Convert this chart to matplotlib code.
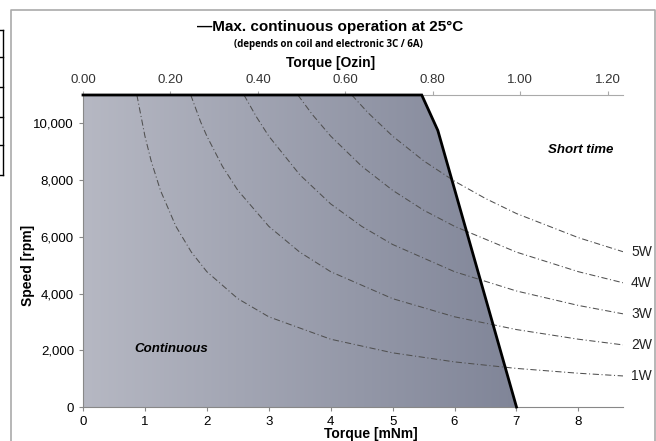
import numpy as np
import matplotlib.pyplot as plt
from matplotlib.patches import Polygon
from matplotlib.lines import Line2D
from matplotlib.colors import LinearSegmentedColormap

plt.rcParams['font.family'] = ['Liberation Sans', 'DejaVu Sans']

# limite de operacion continua (torque mNm, velocidad rpm)
limite_torque = [0.0, 0.0, 5.47, 5.73, 7.0]
limite_vel = [0, 11000, 11000, 9750, 0]

# curvas de potencia constante
potencias = ["1W", "2W", "3W", "4W", "5W"]
curvas_torque = [
    [0.87, 1.0, 1.1, 1.25, 1.5, 1.75, 2.0, 2.5, 3.0, 4.0, 5.0, 6.0, 7.0, 8.0, 8.72],
    [1.74, 1.9, 2.0, 2.25, 2.5, 3.0, 3.5, 4.0, 5.0, 6.0, 7.0, 8.0, 8.72],
    [2.60, 2.8, 3.0, 3.5, 4.0, 4.5, 5.0, 6.0, 7.0, 8.0, 8.72],
    [3.47, 3.7, 4.0, 4.5, 5.0, 5.5, 6.0, 7.0, 8.0, 8.72],
    [4.34, 4.6, 5.0, 5.5, 6.0, 6.5, 7.0, 8.0, 8.72],
]
curvas_vel = [
    [11000, 9550, 8680, 7640, 6370, 5460, 4770, 3820, 3180, 2390, 1910, 1590, 1360, 1190, 1095],
    [11000, 10050, 9550, 8490, 7640, 6370, 5460, 4770, 3820, 3180, 2730, 2390, 2190],
    [11000, 10230, 9550, 8190, 7160, 6370, 5730, 4770, 4090, 3580, 3285],
    [11000, 10320, 9550, 8490, 7640, 6940, 6370, 5460, 4770, 4380],
    [11000, 10380, 9550, 8680, 7960, 7350, 6820, 5970, 5475],
]

xticks = [0, 1, 2, 3, 4, 5, 6, 7, 8]
yticks = [0, 2000, 4000, 6000, 8000, 10000]
oz_ticks = [0.0, 0.2, 0.4, 0.6, 0.8, 1.0, 1.2]
MNM_A_OZIN = 0.1416

fig = plt.figure(figsize=(6.56, 4.41), dpi=100)
ax = fig.add_axes([83/656, 1-407/441, 540/656, 312/441])
ax.set_xlim(0, 8.72)
ax.set_ylim(0, 11000)

# relleno con degradado
cmap = LinearSegmentedColormap.from_list("gr", ["#b6b8c3", "#808598"])
grad = np.linspace(0, 1, 256).reshape(1, -1)
im = ax.imshow(grad, extent=[0, 7.0, 0, 11000], aspect='auto', cmap=cmap, zorder=1)
poly = Polygon(list(zip(limite_torque, limite_vel)), closed=True,
               facecolor='none', edgecolor='none')
ax.add_patch(poly)
im.set_clip_path(poly)
ax.plot(limite_torque[1:], limite_vel[1:], color='black', lw=2, zorder=4,
        solid_joinstyle='miter', clip_on=False)

for nombre, tx, vy in zip(potencias, curvas_torque, curvas_vel):
    ax.plot(tx, vy, color='#505050', lw=0.75, dashes=(6, 2.5, 1, 2.5), zorder=3)
    ax.text(8.85, vy[-1], nombre, fontsize=10, color='#222222', va='center',
            ha='left', clip_on=False)

ax.text(1.43, 2050, "Continuous", fontsize=9.5, fontweight='bold',
        fontstyle='italic', ha='center', va='center')
ax.text(8.03, 9050, "Short time", fontsize=9.5, fontweight='bold',
        fontstyle='italic', ha='center', va='center')

ax.set_xticks(xticks)
ax.set_yticks(yticks)
ax.set_yticklabels([f"{v:,}" for v in yticks])
for s in ['top', 'right']:
    ax.spines[s].set_visible(False)
for s in ['left', 'bottom']:
    ax.spines[s].set_color('#888888')
ax.tick_params(axis='both', colors='#888888', labelcolor='black', labelsize=9.5,
               length=3, width=0.8)

sec = ax.secondary_xaxis('top', functions=(lambda t: t * MNM_A_OZIN,
                                           lambda o: o / MNM_A_OZIN))
sec.set_xticks(oz_ticks)
sec.set_xticklabels([f"{v:.2f}" for v in oz_ticks])
sec.spines['top'].set_color('#aaaaaa')
sec.tick_params(colors='#aaaaaa', labelcolor='#333333', labelsize=9.5,
                length=3, width=0.8)

fig.text(371/656, 1-434/441, "Torque [mNm]", fontsize=10, fontweight='bold',
         ha='center', va='center')
fig.text(331/656, 1-63/441, "Torque [Ozin]", fontsize=10, fontweight='bold',
         ha='center', va='center')
fig.text(28/656, 1-265/441, "Speed [rpm]", fontsize=10, fontweight='bold',
         rotation=90, ha='center', va='center')
fig.text(330/656, 1-27/441, "\u2014Max. continuous operation at 25°C",
         fontsize=11, fontweight='bold', ha='center', va='center')
fig.text(328/656, 1-45/441, "(depends on coil and electronic 3C / 6A)",
         fontsize=7, fontweight='bold', ha='center', va='center',
         family=['Open Sans', 'DejaVu Sans'])

# marco y restos de la tabla
fig.add_artist(Line2D([11/656, 11/656, 655/656, 655/656],
                      [0, 1-10/441, 1-10/441, 0], color='#aaaaaa', lw=1.2))
fig.add_artist(Line2D([3/656, 3/656], [1-30/441, 1-175/441], color='black', lw=1))
for yy in [30, 57, 87, 117, 145, 175]:
    fig.add_artist(Line2D([0, 3/656], [1-yy/441, 1-yy/441], color='black', lw=1))

fig.savefig("out.png", dpi=100)
